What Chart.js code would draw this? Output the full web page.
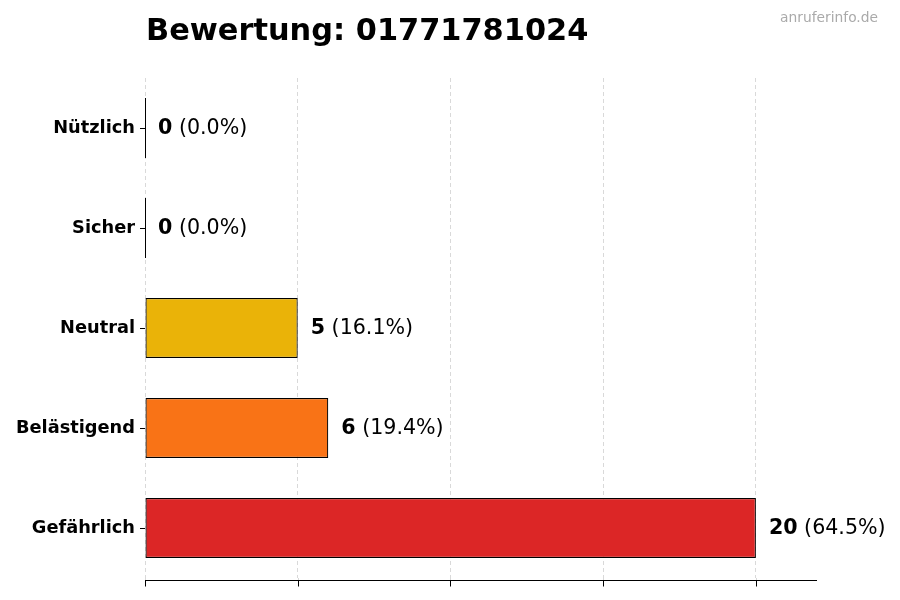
<!DOCTYPE html>
<html>
<head>
<meta charset="utf-8">
<script src="https://cdn.jsdelivr.net/npm/chart.js@4/dist/chart.umd.min.js"></script>
<style>
  html, body { margin: 0; padding: 0; background: #fff; }
  #wrap { width: 900px; height: 600px; }
</style>
</head>
<body>
<div id="wrap"><canvas id="chart"></canvas></div>
<script>
const title_text = 'Bewertung: 01771781024';
const watermark = 'anruferinfo.de';
const categories = ['Nützlich', 'Sicher', 'Neutral', 'Belästigend', 'Gefährlich'];
const counts = [0, 0, 5, 6, 20];
const bar_colors = ['#22c55e', '#3b82f6', '#eab308', '#f97316', '#dc2626'];
const x_ticks = [0, 5, 10, 15, 20];
const x_max = 22;

const font_family = '"DejaVu Sans", sans-serif';
const total = counts.reduce((a, b) => a + b, 0);
const axis_gap = 2; // bottom spine sits a little below the last category

// value labels, zero-bar edges, bottom spine, title and watermark
const extras = {
    id: 'extras',
    afterDatasetsDraw(chart) {
        const ctx = chart.ctx;
        const meta = chart.getDatasetMeta(0);
        ctx.save();
        meta.data.forEach((bar, i) => {
            const props = bar.getProps(['x', 'y', 'base', 'height'], true);
            if (counts[i] === 0) {
                ctx.strokeStyle = '#000';
                ctx.lineWidth = 1;
                ctx.beginPath();
                ctx.moveTo(Math.round(props.base) + 0.5, props.y - props.height / 2);
                ctx.lineTo(Math.round(props.base) + 0.5, props.y + props.height / 2);
                ctx.stroke();
            }
            const pct = total ? (counts[i] / total * 100).toFixed(1) : '0.0';
            let x = props.x + 13;
            const y = props.y + 1;
            ctx.textBaseline = 'middle';
            ctx.textAlign = 'left';
            ctx.fillStyle = '#000';
            ctx.font = 'bold 20.6px ' + font_family;
            const num = String(counts[i]);
            ctx.fillText(num, x, y);
            x += ctx.measureText(num).width;
            ctx.font = '20.6px ' + font_family;
            ctx.fillText(' (' + pct + '%)', x, y);
        });
        ctx.restore();
    },
    afterDraw(chart) {
        const ctx = chart.ctx;
        const area = chart.chartArea;
        const xs = chart.scales.x;
        const spine_y = Math.round(area.bottom + axis_gap) + 0.5;
        ctx.save();
        // grid extension down to the spine
        ctx.strokeStyle = 'rgba(160,160,160,0.4)';
        ctx.setLineDash([4, 3]);
        x_ticks.forEach(v => {
            const px = Math.round(xs.getPixelForValue(v)) + 0.5;
            ctx.beginPath();
            ctx.moveTo(px, area.bottom);
            ctx.lineTo(px, spine_y);
            ctx.stroke();
        });
        ctx.setLineDash([]);
        ctx.strokeStyle = '#000';
        ctx.lineWidth = 1;
        ctx.beginPath();
        ctx.moveTo(area.left, spine_y);
        ctx.lineTo(area.right, spine_y);
        x_ticks.forEach(v => {
            const px = Math.round(xs.getPixelForValue(v)) + 0.5;
            ctx.moveTo(px, spine_y);
            ctx.lineTo(px, spine_y + 6);
        });
        ctx.stroke();

        ctx.fillStyle = '#000';
        ctx.textAlign = 'left';
        ctx.textBaseline = 'alphabetic';
        ctx.font = 'bold 30.4px ' + font_family;
        ctx.fillText(title_text, area.left + 1, 40);
        ctx.fillStyle = '#aaaaaa';
        ctx.textAlign = 'right';
        ctx.font = '13.8px ' + font_family;
        ctx.fillText(watermark, 878, 22);
        ctx.restore();
    }
};

new Chart(document.getElementById('chart'), {
    type: 'bar',
    data: {
        labels: categories,
        datasets: [{
            data: counts,
            backgroundColor: bar_colors,
            borderColor: '#000',
            borderWidth: 1.2,
            borderSkipped: false,
            barPercentage: 0.6,
            categoryPercentage: 1.0
        }]
    },
    options: {
        indexAxis: 'y',
        responsive: true,
        maintainAspectRatio: false,
        animation: false,
        layout: { padding: { top: 78, right: 83, bottom: 0, left: 0 } },
        plugins: {
            legend: { display: false },
            tooltip: { enabled: false }
        },
        scales: {
            x: {
                min: 0,
                max: x_max,
                z: 1,
                afterBuildTicks: scale => { scale.ticks = x_ticks.map(v => ({ value: v })); },
                afterFit: scale => { scale.height = 22; },
                ticks: { callback: () => '', includeBounds: false },
                grid: {
                    color: 'rgba(160,160,160,0.4)',
                    drawTicks: false
                },
                border: { display: false, dash: [4, 3] }
            },
            y: {
                afterFit: scale => { scale.width = 145; },
                ticks: {
                    color: '#000',
                    padding: 5,
                    font: { family: font_family, size: 17.8, weight: 'bold' }
                },
                grid: {
                    offset: false,
                    drawOnChartArea: false,
                    drawTicks: true,
                    tickLength: 5,
                    tickColor: '#000'
                },
                border: { display: false }
            }
        }
    },
    plugins: [extras]
});
</script>
</body>
</html>
